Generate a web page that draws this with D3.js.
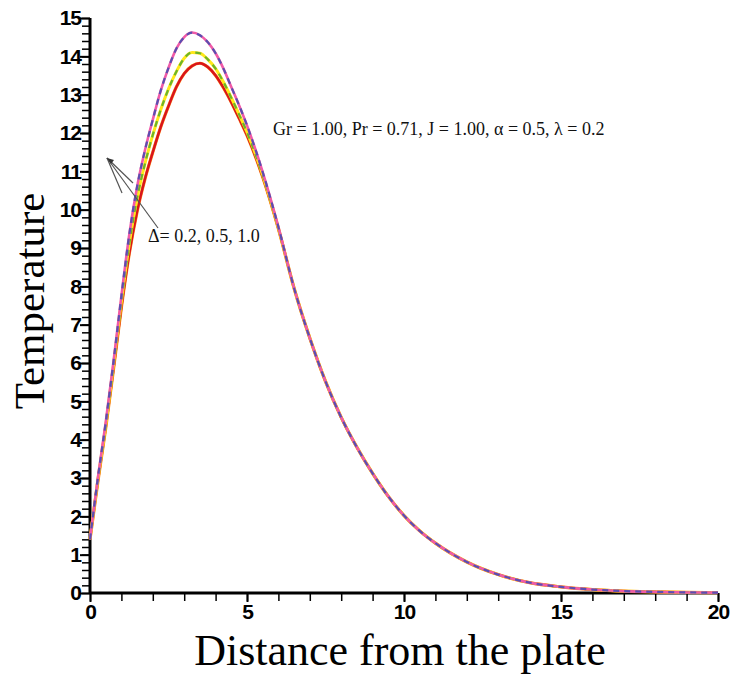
<!DOCTYPE html>
<html>
<head>
<meta charset="utf-8">
<script src="https://cdn.jsdelivr.net/npm/d3@7/dist/d3.min.js"></script>
<style>
  html, body { margin: 0; padding: 0; background: #fff; }
  svg { display: block; }
</style>
</head>
<body>
<svg id="chart" width="731" height="679"></svg>
<script>
// ---- data ----
const xValues = [0, 0.25, 0.5, 0.75, 1.0, 1.25, 1.5, 1.75, 2.0, 2.25, 2.5, 2.75, 3.0, 3.25, 3.5, 3.75, 4.0, 4.25, 4.5, 4.75, 5.0, 5.5, 6.0,
  6.5, 7.0, 7.5, 8.0, 8.5, 9.0, 9.5, 10.0, 10.5, 11.0, 12.0, 13.0, 14.0, 15.0, 16.0, 17.0, 18.0, 19.0, 20.0];
const tailValues = [7.95, 6.65, 5.52, 4.58, 3.8, 3.12, 2.52, 2.02, 1.62, 1.3, 0.81, 0.48, 0.27, 0.16, 0.09, 0.05, 0.03, 0.015, 0.01];
const delta02 = [1.4, 3.0, 4.45, 6.05, 7.75, 9.35, 10.6, 11.55, 12.35, 13.1, 13.7, 14.2, 14.5, 14.62, 14.55, 14.37, 14.08, 13.68, 13.2, 12.72, 12.2, 10.98, 9.55].concat(tailValues);
const delta05 = [1.4, 2.95, 4.35, 5.95, 7.6, 9.1, 10.3, 11.2, 11.95, 12.6, 13.15, 13.6, 13.95, 14.1, 14.08, 13.92, 13.68, 13.33, 12.92, 12.48, 12.02, 10.9, 9.52].concat(tailValues);
const delta10 = [1.4, 2.9, 4.3, 5.85, 7.45, 8.85, 9.95, 10.8, 11.5, 12.15, 12.7, 13.2, 13.55, 13.75, 13.82, 13.72, 13.5, 13.18, 12.8, 12.38, 11.94, 10.85, 9.5].concat(tailValues);
const xTicks = [0, 5, 10, 15, 20];
const yTicks = [0, 1, 2, 3, 4, 5, 6, 7, 8, 9, 10, 11, 12, 13, 14, 15];
const xLabel = "Distance from the plate";
const yLabel = "Temperature";
const paramText = "Gr = 1.00, Pr = 0.71, J = 1.00, α = 0.5, λ = 0.2";
const deltaText = "Δ= 0.2, 0.5, 1.0";

// ---- layout ----
const svg = d3.select("#chart");
const mLeft = 90, mRight = 718, mTop = 18, mBottom = 593;
const x = d3.scaleLinear().domain([0, 20]).range([mLeft, mRight]);
const y = d3.scaleLinear().domain([0, 15]).range([mBottom, mTop]);

// minor ticks
const xMinor = d3.range(0, 20.001, 1);
const yMinor = d3.range(0, 15.001, 0.2);

const numFont = "Liberation Sans, Arial, sans-serif";
const gx = svg.append("g").attr("transform", `translate(0,${mBottom})`);
gx.call(d3.axisBottom(x).tickValues(xMinor).tickSize(8).tickFormat(""))
  .call(g => g.select(".domain").remove())
  .selectAll("line").attr("stroke", "#000").attr("stroke-width", 1.5);
const gx2 = svg.append("g").attr("transform", `translate(0,${mBottom})`);
gx2.call(d3.axisBottom(x).tickValues(xTicks).tickSize(9).tickPadding(2).tickFormat(d3.format("d")))
  .call(g => g.select(".domain").remove());
gx2.selectAll("line").attr("stroke", "#000").attr("stroke-width", 2);
gx2.selectAll("text").attr("font-family", numFont)
  .attr("font-size", 21).attr("font-weight", "bold").attr("fill", "#000").attr("letter-spacing", -1);

const gy = svg.append("g").attr("transform", `translate(${mLeft},0)`);
gy.call(d3.axisLeft(y).tickValues(yMinor).tickSize(8).tickFormat(""))
  .call(g => g.select(".domain").remove())
  .selectAll("line").attr("stroke", "#000").attr("stroke-width", 1.5);
const gy2 = svg.append("g").attr("transform", `translate(${mLeft},0)`);
gy2.call(d3.axisLeft(y).tickValues(yTicks).tickSize(10).tickPadding(-1).tickFormat(d3.format("d")))
  .call(g => g.select(".domain").remove());
gy2.selectAll("line").attr("stroke", "#000").attr("stroke-width", 2);
gy2.selectAll("text").attr("font-family", numFont)
  .attr("font-size", 21).attr("font-weight", "bold").attr("fill", "#000").attr("letter-spacing", -1);

// axis lines
svg.append("line").attr("x1", x(0)).attr("x2", x(20)).attr("y1", y(0)).attr("y2", y(0))
  .attr("stroke", "#000").attr("stroke-width", 3);
svg.append("line").attr("x1", x(0)).attr("x2", x(0)).attr("y1", y(0)).attr("y2", y(15))
  .attr("stroke", "#000").attr("stroke-width", 3);

// ---- curves ----
const line = d3.line().x((d, i) => x(xValues[i])).y(d => y(d)).curve(d3.curveMonotoneX);
const layers = [
  { data: delta10, color: "#ff8a1c", width: 3.2, dash: null },
  { data: delta10, color: "#d8141c", width: 2.4, dash: null },
  { data: delta05, color: "#ffe81a", width: 3, dash: null },
  { data: delta05, color: "#6cb42a", width: 2.2, dash: "6,5" },
  { data: delta02, color: "#f05aa8", width: 2.6, dash: null },
  { data: delta02, color: "#5a4fb0", width: 2.2, dash: "6,5" }
];
layers.forEach(l => {
  svg.append("path").datum(l.data).attr("d", line)
    .attr("fill", "none").attr("stroke", l.color).attr("stroke-width", l.width)
    .attr("stroke-dasharray", l.dash).attr("stroke-linejoin", "round");
});

// ---- annotations ----
const serif = "Liberation Serif, Times New Roman, serif";
svg.append("text").attr("x", 273).attr("y", 135).text(paramText)
  .attr("font-family", serif).attr("font-size", 18).attr("fill", "#111");
svg.append("text").attr("x", 148).attr("y", 242).text(deltaText)
  .attr("font-family", serif).attr("font-size", 18).attr("fill", "#111");

const tip = [107, 158];
[[133, 183], [122, 193], [158, 228]].forEach(p => {
  svg.append("line").attr("x1", tip[0]).attr("y1", tip[1]).attr("x2", p[0]).attr("y2", p[1])
    .attr("stroke", "#555").attr("stroke-width", 1.2);
});
svg.append("path").attr("d", `M${tip[0]},${tip[1]} l7,2 l-3,4 z`).attr("fill", "#333");

// axis titles
svg.append("text").attr("x", 400).attr("y", 665).attr("text-anchor", "middle").text(xLabel)
  .attr("font-family", serif).attr("font-size", 44).attr("fill", "#000");
svg.append("text").attr("transform", "translate(44,301) rotate(-90)").attr("text-anchor", "middle").text(yLabel)
  .attr("font-family", serif).attr("font-size", 43).attr("fill", "#000");
</script>
</body>
</html>
